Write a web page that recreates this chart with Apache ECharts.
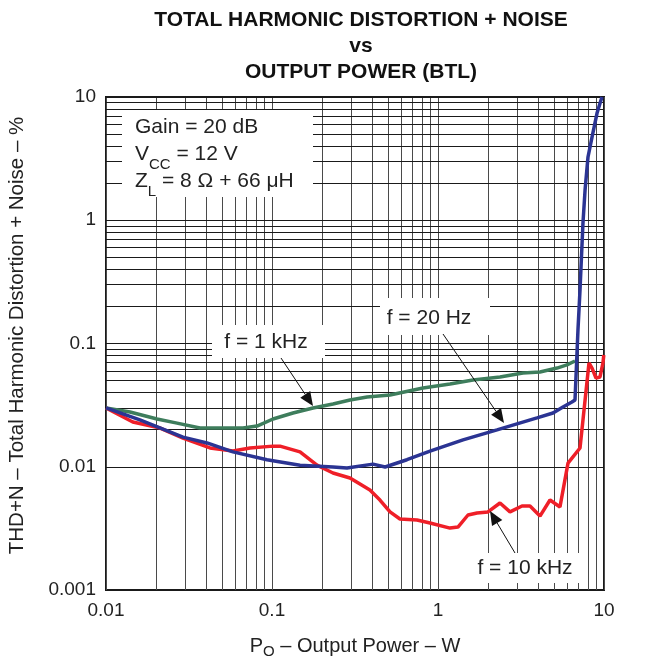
<!DOCTYPE html>
<html><head><meta charset="utf-8">
<script src="https://cdn.jsdelivr.net/npm/echarts@6/dist/echarts.min.js"></script>
<style>html,body{margin:0;padding:0;background:#fff}#c{width:645px;height:660px}</style>
</head><body><div id="c"></div>
<script>
// ---- data ----
const power20Hz = [0.01,0.016,0.0291,0.0406,0.0582,0.0933,0.1475,0.233,0.283,0.406,0.48,0.65,0.895,1.415,2.267,3.948,4.93,5.66,6.41,6.69,6.97,7.17,7.47,7.69,8.01,8.47,9.08,9.72];
const thd20Hz   = [0.030,0.024,0.0174,0.0156,0.0132,0.0114,0.0103,0.00995,0.00977,0.0105,0.00995,0.0114,0.0134,0.0165,0.0199,0.0249,0.0273,0.0305,0.0335,0.0348,0.129,0.272,0.95,1.76,3.26,4.73,7.41,10];

const power1kHz = [0.01,0.01395,0.0203,0.0268,0.0368,0.0466,0.0669,0.0812,0.1014,0.1338,0.1766,0.233,0.295,0.374,0.514,0.812,1.181,1.625,2.363,3.25,4.115,5.21,5.98,6.69];
const thd1kHz   = [0.030,0.0278,0.0244,0.0226,0.0206,0.0206,0.0206,0.0214,0.0244,0.0273,0.0300,0.0323,0.0348,0.0368,0.0382,0.0436,0.0469,0.0506,0.0535,0.0577,0.0587,0.0632,0.0670,0.0721];

const power10kHz = [0.01,0.0145,0.0212,0.0291,0.0423,0.0582,0.0737,0.1014,0.1117,0.1475,0.1866,0.233,0.295,0.389,0.447,0.514,0.59,0.747,0.895,1.181,1.319,1.516,1.718,2.0,2.363,2.715,3.206,3.583,4.115,4.728,5.43,6.07,7.17,8.12,8.47,8.95,9.46,9.86,9.97];
const thd10kHz   = [0.030,0.0231,0.0206,0.0171,0.0142,0.0134,0.0142,0.0147,0.0147,0.0132,0.0103,0.0089,0.00811,0.00648,0.00537,0.0043,0.00377,0.0037,0.0035,0.00318,0.00324,0.00406,0.00422,0.0043,0.00508,0.0043,0.0048,0.0048,0.00398,0.00537,0.00472,0.0107,0.0142,0.0695,0.0632,0.0525,0.0535,0.0695,0.0807];

const xTickLabels = ['0.01','0.1','1','10'];
const yTickLabels = ['0.001','0.01','0.1','1','10'];
const xDecades = [0.01,0.1,1];
const yDecades = [0.001,0.01,0.1,1];

const FONT = 'Liberation Sans, Arial, sans-serif';
const zip = (a,b)=>a.map((v,i)=>[v,b[i]]);
const labelFor = (v, arr) => { const e = Math.round(Math.log10(v)); const m = arr.find(s => Math.round(Math.log10(parseFloat(s))) === e); return m || ''; };

// grid line values (1..9 per decade)
const xGrid = []; xDecades.forEach(d=>{for(let m=1;m<=9;m++) xGrid.push(m*d);}); xGrid.push(10);
const yGrid = []; yDecades.forEach(d=>{for(let m=1;m<=9;m++) yGrid.push(m*d);}); yGrid.push(10);

const gridLines = [];
xGrid.forEach(v=>gridLines.push({xAxis:v, lineStyle:{color:'#4a4a4a', width:1, type:'solid'}}));
yGrid.forEach(v=>gridLines.push({yAxis:v, lineStyle:{color:'#1a1a1a', width:1.2, type:'solid'}}));

const chart = echarts.init(document.getElementById('c'), null, {renderer:'canvas'});

function arrow(x1,y1,x2,y2){
  const dx=x2-x1, dy=y2-y1, L=Math.hypot(dx,dy), ux=dx/L, uy=dy/L;
  const hl=14, hw=6;
  const bx=x2-ux*hl, by=y2-uy*hl;
  return [
    {type:'line', z:120, shape:{x1:x1,y1:y1,x2:bx,y2:by}, style:{stroke:'#111', lineWidth:1}},
    {type:'polygon', z:120, shape:{points:[[x2,y2],[bx-uy*hw,by+ux*hw],[bx+uy*hw,by-ux*hw]]}, style:{fill:'#111'}}
  ];
}
function box(x,y,w,h){ return {type:'rect', z:100, shape:{x:x,y:y,width:w,height:h}, style:{fill:'#fff'}}; }
function txt(x,y,t,align){ return {type:'text', z:110, x:x, y:y, style:{text:t, fill:'#222', font:'21px '+FONT, align:align||'center', verticalAlign:'middle'}}; }

const graphics = [
  box(122,110,191,87),
  {type:'text', z:110, x:135, y:117, style:{
    rich:{
      n:{fontSize:21, fontFamily:FONT, fill:'#222', lineHeight:27, verticalAlign:'top'},
      s:{fontSize:15, fontFamily:FONT, fill:'#222', lineHeight:14, padding:[13,0,0,0], verticalAlign:'top'}
    },
    text:'{n|Gain = 20 dB}\n{n|V}{s|CC}{n| = 12 V}\n{n|Z}{s|L}{n| = 8 Ω + 66 μH}',
    lineHeight:27
  }},
  box(212,325,113,33), txt(266,342,'f = 1 kHz'),
  box(380,298,110,37), txt(429,318,'f = 20 Hz'),
  box(465,553,123,30), txt(525,568,'f = 10 kHz'),
  ...arrow(281,358,313,406),
  ...arrow(443,334,504,423),
  ...arrow(515,553,490,511)
];

const option = {
  animation:false,
  backgroundColor:'#fff',
  title:{
    text:'TOTAL HARMONIC DISTORTION + NOISE\nvs\nOUTPUT POWER (BTL)',
    left:356, textAlign:'center', top:2,
    textStyle:{fontFamily:FONT, fontWeight:'bold', fontSize:21, lineHeight:26, color:'#111'}
  },
  grid:{left:106, right:41, top:97, bottom:70, show:true, borderColor:'#1a1a1a', borderWidth:2, backgroundColor:'transparent', containLabel:false, outerBoundsMode:'none'},
  xAxis:{
    type:'log', logBase:10, min:0.01, max:10,
    name:'P{s|O} – Output Power – W', nameLocation:'middle', nameGap:44,
    nameTextStyle:{fontFamily:FONT, fontSize:20, color:'#222', rich:{s:{fontSize:15, fontFamily:FONT, color:'#222', padding:[10,0,0,0]}}},
    axisLine:{show:true, lineStyle:{color:'#1a1a1a', width:2}},
    axisTick:{show:false}, splitLine:{show:false},
    axisLabel:{fontFamily:FONT, fontSize:19, color:'#222', margin:11, formatter:v=>labelFor(v,xTickLabels)}
  },
  yAxis:{
    type:'log', logBase:10, min:0.001, max:10,
    name:'THD+N – Total Harmonic Distortion + Noise – %', nameLocation:'middle', nameGap:78,
    nameTextStyle:{fontFamily:FONT, fontSize:20.5, color:'#222', padding:[0,0,0,16]},
    axisLine:{show:true, lineStyle:{color:'#1a1a1a', width:2}},
    axisTick:{show:false}, splitLine:{show:false},
    axisLabel:{fontFamily:FONT, fontSize:19, color:'#222', margin:10, formatter:v=>labelFor(v,yTickLabels)}
  },
  graphic:graphics,
  series:[
    {type:'line', z:1, data:[[0.01,0.03]], symbol:'none', lineStyle:{opacity:0}, silent:true,
     markLine:{silent:true, symbol:['none','none'], label:{show:false}, animation:false, data:gridLines}},
    {name:'f = 1 kHz', type:'line', z:5, data:zip(power1kHz,thd1kHz), symbol:'none', lineStyle:{color:'#3e7d5c', width:3.5}},
    {name:'f = 10 kHz', type:'line', z:6, data:zip(power10kHz,thd10kHz), symbol:'none', lineStyle:{color:'#ef1f28', width:3.5}},
    {name:'f = 20 Hz', type:'line', z:7, data:zip(power20Hz,thd20Hz), symbol:'none', lineStyle:{color:'#2b3493', width:3.5}}
  ]
};
chart.setOption(option);
</script></body></html>
